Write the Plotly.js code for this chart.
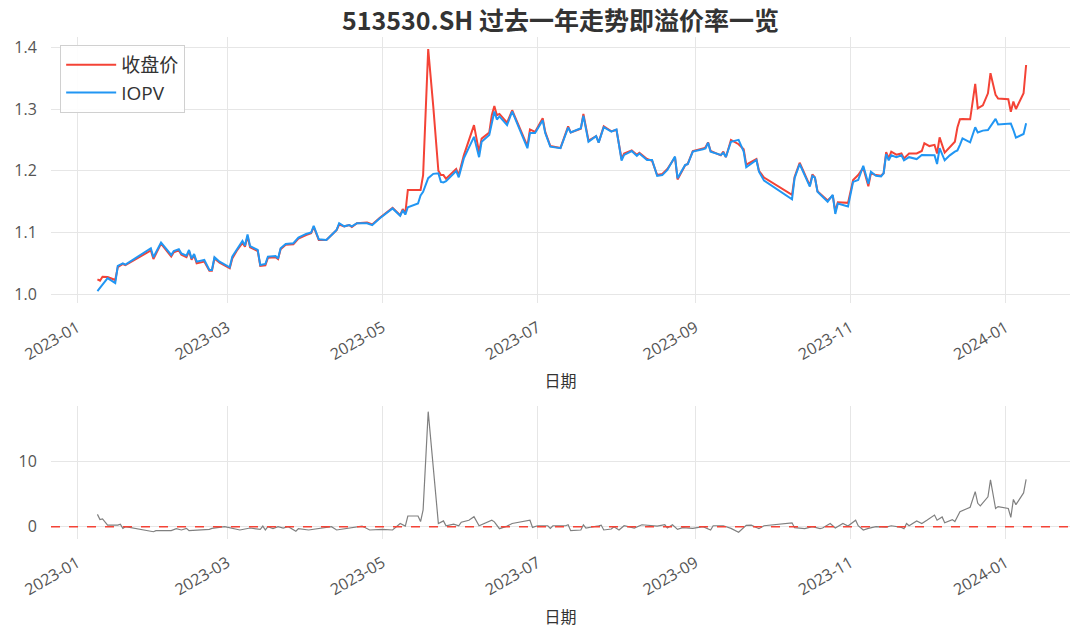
<!DOCTYPE html>
<html><head><meta charset="utf-8">
<script src="https://cdn.plot.ly/plotly-3.0.1.min.js"></script>
<style>html,body{margin:0;padding:0;background:#fff}#chart{width:1080px;height:633px}</style>
</head><body><div id="chart"></div>
<script>
const dates = ['2023-01-09','2023-01-10','2023-01-11','2023-01-13','2023-01-16','2023-01-17','2023-01-19','2023-01-20',
'2023-01-30','2023-01-31','2023-02-03','2023-02-05','2023-02-07','2023-02-08','2023-02-10','2023-02-11',
'2023-02-13','2023-02-14','2023-02-15','2023-02-16','2023-02-17','2023-02-20','2023-02-22','2023-02-23',
'2023-02-24','2023-02-26','2023-03-02','2023-03-03','2023-03-05','2023-03-07','2023-03-08','2023-03-09',
'2023-03-10','2023-03-13','2023-03-14','2023-03-16','2023-03-17','2023-03-20','2023-03-21','2023-03-22',
'2023-03-24','2023-03-27','2023-03-29','2023-04-01','2023-04-03','2023-04-04','2023-04-06','2023-04-09',
'2023-04-11','2023-04-13','2023-04-14','2023-04-16','2023-04-18','2023-04-19','2023-04-21','2023-04-25',
'2023-04-27','2023-04-30','2023-05-05','2023-05-08','2023-05-09','2023-05-10','2023-05-11','2023-05-15',
'2023-05-16','2023-05-17','2023-05-19','2023-05-21','2023-05-23','2023-05-24','2023-05-25','2023-05-26',
'2023-05-30','2023-05-31','2023-06-02','2023-06-06','2023-06-08','2023-06-09','2023-06-12','2023-06-13',
'2023-06-14','2023-06-15','2023-06-16','2023-06-19','2023-06-21','2023-06-27','2023-06-28','2023-06-30',
'2023-07-03','2023-07-04','2023-07-06','2023-07-10','2023-07-11','2023-07-13','2023-07-14','2023-07-18',
'2023-07-19','2023-07-21','2023-07-24','2023-07-25','2023-07-27','2023-07-30','2023-08-01','2023-08-03',
'2023-08-04','2023-08-07','2023-08-09','2023-08-10','2023-08-13','2023-08-15','2023-08-17','2023-08-19',
'2023-08-21','2023-08-24','2023-08-25','2023-08-28','2023-08-29','2023-08-31','2023-09-04','2023-09-05',
'2023-09-06','2023-09-07','2023-09-11','2023-09-12','2023-09-13','2023-09-15','2023-09-18','2023-09-20',
'2023-09-21','2023-09-23','2023-09-25','2023-09-26','2023-09-28','2023-10-09','2023-10-10','2023-10-12',
'2023-10-14','2023-10-16','2023-10-17','2023-10-18','2023-10-19','2023-10-21','2023-10-23','2023-10-25',
'2023-10-26','2023-10-27','2023-10-31','2023-11-02','2023-11-04','2023-11-06','2023-11-08','2023-11-09',
'2023-11-11','2023-11-13','2023-11-14','2023-11-15','2023-11-16','2023-11-17','2023-11-19','2023-11-21',
'2023-11-22','2023-11-24','2023-11-27','2023-11-29','2023-11-30','2023-12-02','2023-12-04','2023-12-05',
'2023-12-06','2023-12-08','2023-12-10','2023-12-12','2023-12-13','2023-12-14','2023-12-15','2023-12-18',
'2023-12-20','2023-12-21','2023-12-23','2023-12-25','2023-12-26','2023-12-28','2023-12-29','2024-01-02',
'2024-01-03','2024-01-04','2024-01-05','2024-01-08','2024-01-09'];

const iopv = [1.005,1.010,1.016,1.026,1.018,1.046,1.050,1.048,
1.0745,1.060,1.0836,1.0745,1.0636,1.070,1.073,1.066,
1.0625,1.0717,1.058,1.065,1.0528,1.0555,1.0394,1.0394,
1.060,1.0528,1.0437,1.061,1.0745,1.0863,1.079,1.097,
1.078,1.0717,1.0474,1.049,1.061,1.062,1.058,1.0745,
1.0815,1.0826,1.0917,1.0977,1.100,1.1106,1.089,1.088,
1.096,1.104,1.115,1.110,1.112,1.110,1.115,1.115,
1.112,1.123,1.139,1.127,1.136,1.129,1.141,1.147,
1.160,1.166,1.188,1.195,1.196,1.182,1.181,1.183,
1.1997,1.1895,1.220,1.255,1.222,1.247,1.258,1.277,
1.296,1.283,1.288,1.274,1.296,1.2365,1.261,1.261,
1.282,1.261,1.239,1.2365,1.247,1.270,1.262,1.269,
1.289,1.247,1.256,1.2455,1.2705,1.2633,1.267,1.2164,
1.2256,1.232,1.224,1.228,1.2175,1.2175,1.1916,1.193,
1.2013,1.223,1.188,1.2094,1.2105,1.231,1.2348,1.236,
1.2455,1.231,1.2256,1.229,1.2223,1.247,1.250,1.231,
1.2057,1.212,1.2175,1.1985,1.184,1.1539,1.188,1.211,
1.193,1.1743,1.1916,1.189,1.166,1.158,1.150,1.161,
1.130,1.147,1.142,1.182,1.185,1.208,1.179,1.1985,
1.192,1.191,1.196,1.227,1.217,1.225,1.222,1.225,
1.217,1.222,1.219,1.2256,1.2256,1.225,1.225,1.211,
1.2365,1.217,1.225,1.231,1.233,1.242,1.2526,1.246,
1.2705,1.262,1.265,1.266,1.272,1.284,1.275,1.277,
1.2765,1.266,1.2536,1.2596,1.277];

const closePrice = [1.024,1.022,1.0285,1.028,1.023,1.044,1.049,1.047,
1.071,1.057,1.082,1.072,1.061,1.068,1.071,1.064,
1.060,1.070,1.056,1.063,1.050,1.053,1.038,1.038,
1.058,1.051,1.042,1.058,1.072,1.083,1.077,1.094,
1.076,1.070,1.046,1.047,1.059,1.060,1.057,1.073,
1.080,1.081,1.090,1.096,1.099,1.109,1.088,1.088,
1.096,1.104,1.113,1.110,1.112,1.109,1.115,1.116,
1.113,1.124,1.140,1.128,1.138,1.131,1.169,1.169,
1.169,1.193,1.397,1.304,1.200,1.193,1.193,1.187,
1.203,1.193,1.225,1.274,1.230,1.252,1.262,1.290,
1.305,1.290,1.292,1.278,1.298,1.240,1.267,1.263,
1.285,1.263,1.240,1.237,1.249,1.272,1.262,1.268,
1.292,1.249,1.256,1.246,1.272,1.264,1.266,1.219,
1.228,1.233,1.226,1.229,1.219,1.216,1.193,1.195,
1.203,1.222,1.186,1.209,1.211,1.232,1.236,1.238,
1.246,1.232,1.225,1.231,1.222,1.250,1.243,1.235,
1.210,1.214,1.219,1.200,1.189,1.161,1.190,1.213,
1.195,1.176,1.194,1.189,1.167,1.159,1.152,1.160,
1.134,1.149,1.148,1.185,1.193,1.205,1.175,1.196,
1.193,1.192,1.196,1.230,1.220,1.231,1.226,1.228,
1.220,1.228,1.228,1.232,1.2445,1.240,1.242,1.228,
1.254,1.2293,1.238,1.247,1.270,1.2834,1.284,1.2834,
1.3406,1.301,1.306,1.3255,1.358,1.3228,1.317,1.3158,
1.2957,1.312,1.300,1.3255,1.3713];

const premDates = ['2023-01-09','2023-01-10','2023-01-11','2023-01-13','2023-01-17','2023-01-18','2023-01-19','2023-01-20',
'2023-01-31','2023-02-01','2023-02-07','2023-02-09','2023-02-11','2023-02-13','2023-02-14','2023-02-17',
'2023-02-22','2023-02-23','2023-02-28','2023-03-06','2023-03-10','2023-03-14','2023-03-15','2023-03-16',
'2023-03-17','2023-03-19','2023-03-21','2023-03-23','2023-03-25','2023-03-28','2023-03-29','2023-04-02',
'2023-04-06','2023-04-11','2023-04-13','2023-04-18','2023-04-21','2023-04-23','2023-04-26','2023-05-01',
'2023-05-05','2023-05-08','2023-05-10','2023-05-11','2023-05-15','2023-05-16','2023-05-17','2023-05-19',
'2023-05-23','2023-05-25','2023-05-26','2023-05-29','2023-05-31','2023-06-01','2023-06-04','2023-06-06',
'2023-06-08','2023-06-13','2023-06-14','2023-06-16','2023-06-19','2023-06-21','2023-06-28','2023-06-29',
'2023-07-01','2023-07-05','2023-07-06','2023-07-07','2023-07-10','2023-07-12','2023-07-13','2023-07-14',
'2023-07-18','2023-07-19','2023-07-20','2023-07-22','2023-07-25','2023-07-26','2023-07-27','2023-07-30',
'2023-07-31','2023-08-02','2023-08-04','2023-08-08','2023-08-11','2023-08-17','2023-08-20','2023-08-21',
'2023-08-23','2023-08-25','2023-08-27','2023-08-31','2023-09-04','2023-09-07','2023-09-08','2023-09-12',
'2023-09-15','2023-09-18','2023-09-21','2023-09-23','2023-09-26','2023-09-28','2023-10-09','2023-10-10',
'2023-10-14','2023-10-17','2023-10-20','2023-10-21','2023-10-24','2023-10-26','2023-10-29','2023-10-31',
'2023-11-03','2023-11-04','2023-11-06','2023-11-08','2023-11-11','2023-11-15','2023-11-17','2023-11-21',
'2023-11-22','2023-11-23','2023-11-24','2023-11-27','2023-11-29','2023-12-01','2023-12-04','2023-12-05',
'2023-12-07','2023-12-08','2023-12-11','2023-12-12','2023-12-14','2023-12-18','2023-12-20','2023-12-21',
'2023-12-22','2023-12-25','2023-12-26','2023-12-28','2023-12-29','2024-01-02','2024-01-03','2024-01-04',
'2024-01-05','2024-01-08','2024-01-09'];

const premium = [1.9,1.1,1.2,0.26,0.26,0.4,-0.25,0.0,
-0.77,-0.6,-0.6,-0.3,-0.5,-0.25,-0.6,-0.5,
-0.4,-0.25,0.0,-0.5,-0.2,-0.4,0.1,-0.5,
0.0,-0.3,0.0,-0.2,0.0,-0.7,-0.3,-0.5,
-0.3,0.0,-0.5,-0.15,0.0,0.1,-0.5,-0.4,
-0.5,0.5,0.1,1.65,1.65,0.8,2.6,17.7,
0.5,0.9,0.15,0.4,0.15,0.7,1.0,1.55,
0.15,1.0,0.75,-0.3,0.1,0.5,1.0,-0.1,
0.15,0.15,-0.25,0.15,0.15,0.15,0.3,-0.6,
-0.5,0.3,-0.2,-0.1,0.15,0.25,-0.5,-0.35,
0.0,-0.5,0.15,-0.2,0.3,0.1,0.3,-0.2,
0.3,-0.4,-0.15,-0.25,0.0,-0.5,0.15,0.15,
-0.25,-0.85,0.2,0.25,-0.3,0.15,0.6,-0.15,
-0.3,0.0,-0.3,-0.2,0.5,-0.2,0.5,0.1,
1.0,0.15,-0.5,-0.25,0.0,-0.05,0.15,-0.1,
-0.3,0.5,0.15,0.9,0.5,1.0,1.8,1.0,
1.5,0.6,1.1,0.8,2.3,3.0,5.4,3.6,
3.2,4.6,7.2,2.8,3.1,2.8,1.45,4.2,
3.4,5.2,7.3];

const RED = '#F44336', BLUE = '#2196F3', GRAY = '#808080';
const FONT = 'Open Sans, Noto Sans CJK SC, sans-serif';
const CJK = 'Noto Sans CJK SC, sans-serif';
const X_RANGE = ['2022-12-21 18:00', '2024-01-26 06:00'];

const xCommon = {
  type: 'date', range: X_RANGE, dtick: 'M2', tick0: '2023-01-01', tickformat: '%Y-%m',
  tickangle: -30, showgrid: true, gridcolor: '#e6e6e6', gridwidth: 1, zeroline: false, showline: false,
  ticks: 'outside', ticklen: 8, tickcolor: 'rgba(0,0,0,0)',
  tickfont: {family: FONT, size: 16, color: '#555'},
  title: {text: '日期', font: {family: CJK, size: 16, color: '#333'}, standoff: 12}
};
const yCommon = {
  showgrid: true, gridcolor: '#e6e6e6', gridwidth: 1, zeroline: false, showline: false,
  ticks: 'outside', ticklen: 10, tickcolor: 'rgba(0,0,0,0)',
  tickfont: {family: FONT, size: 16, color: '#555'}
};

const traces = [
  {x: dates, y: closePrice, name: '收盘价', type: 'scatter', mode: 'lines', line: {color: RED, width: 2}, xaxis: 'x', yaxis: 'y'},
  {x: dates, y: iopv, name: 'IOPV', type: 'scatter', mode: 'lines', line: {color: BLUE, width: 2}, xaxis: 'x', yaxis: 'y'},
  {x: premDates, y: premium, name: '溢价率', type: 'scatter', mode: 'lines', line: {color: GRAY, width: 1.2}, xaxis: 'x2', yaxis: 'y2', showlegend: false}
];

const layout = {
  width: 1080, height: 633,
  paper_bgcolor: '#fff', plot_bgcolor: '#fff',
  margin: {l: 51, r: 10, t: 0, b: 0},
  title: {text: '513530.SH 过去一年走势即溢价率一览', x: 0.5, xref: 'paper', y: 0.966, yref: 'container', yanchor: 'middle',
          font: {family: CJK, size: 25, color: '#333', weight: 'bold'}},
  showlegend: true,
  legend: {x: 0.009, y: 0.929, xanchor: 'left', yanchor: 'top', bgcolor: 'rgba(255,255,255,0.9)',
           bordercolor: '#d0d0d0', borderwidth: 1, itemwidth: 50,
           font: {family: FONT, size: 19, color: '#333'}},
  xaxis: Object.assign({}, xCommon, {domain: [0, 1], anchor: 'y'}),
  yaxis: Object.assign({}, yCommon, {domain: [0.5209, 0.9415], range: [0.9854, 1.4166], dtick: 0.1, tick0: 1.0, tickformat: '.1f', anchor: 'x'}),
  xaxis2: Object.assign({}, xCommon, {domain: [0, 1], anchor: 'y2'}),
  yaxis2: Object.assign({}, yCommon, {domain: [0.1491, 0.3592], range: [-1.83, 18.63], dtick: 10, tick0: 0, anchor: 'x2'}),
  shapes: [{type: 'line', xref: 'x2 domain', x0: 0, x1: 1, yref: 'y2', y0: 0, y1: 0, layer: 'above',
            line: {color: RED, width: 1.3, dash: 'dash'}}]
};

Plotly.newPlot('chart', traces, layout, {displayModeBar: false, staticPlot: true});
</script>
</body></html>
